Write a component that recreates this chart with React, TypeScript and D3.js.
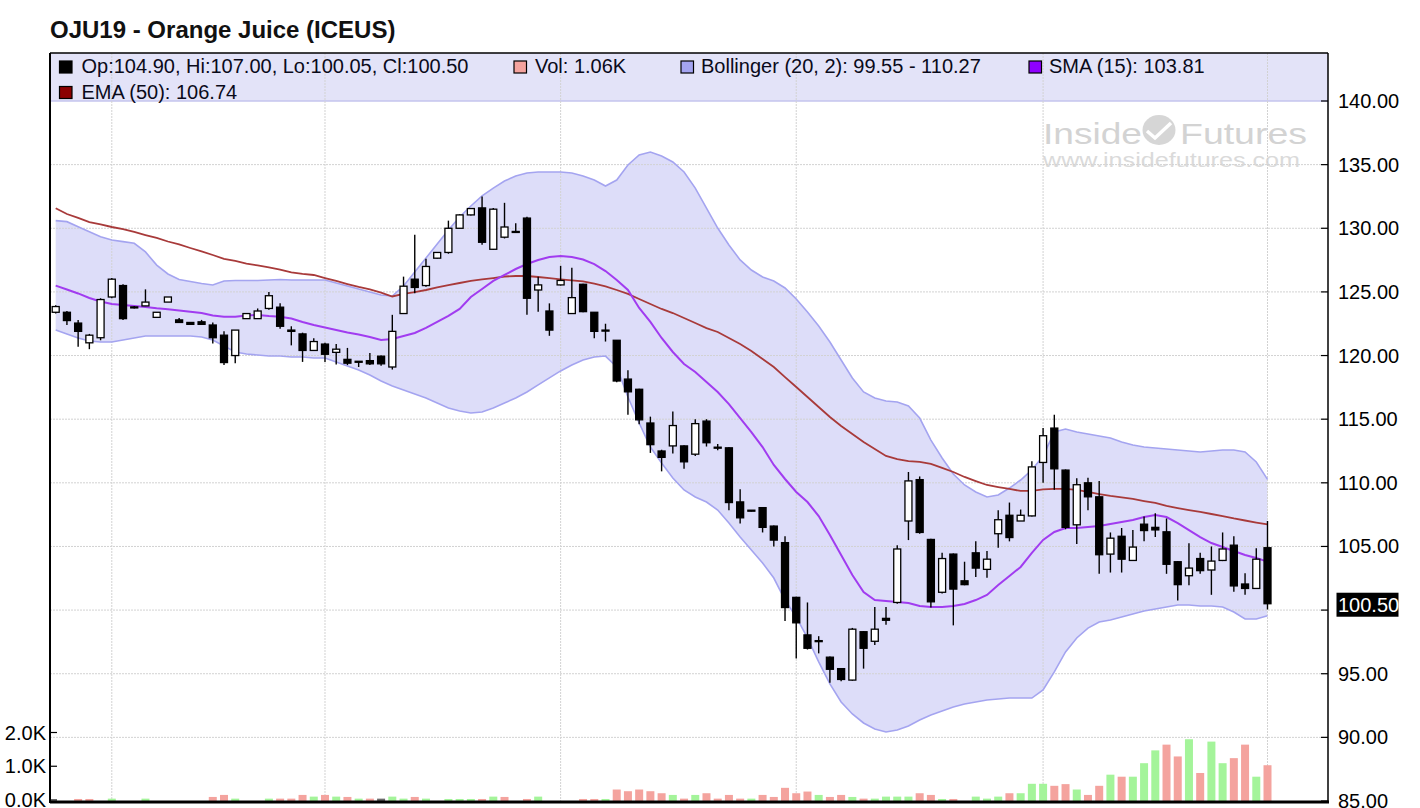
import React from 'react';
import * as d3 from 'd3';

// ---- Data (OJU19 daily candles) ----
const opens = [123.40,123.40,122.55,121.00,121.40,124.60,125.50,123.82,123.90,123.00,
124.20,122.80,122.60,122.65,122.40,121.60,120.00,122.90,122.90,123.70,
123.80,122.00,121.70,120.40,120.90,120.25,119.70,119.55,119.60,119.95,
119.10,123.30,126.00,125.50,127.65,128.10,130.00,131.05,131.60,128.35,
129.30,129.75,130.80,125.15,123.50,125.55,123.30,125.60,123.40,122.00,
121.20,118.15,117.35,114.70,112.50,112.90,112.90,112.25,114.85,112.80,
112.75,108.50,107.85,108.05,106.60,105.30,101.00,98.05,97.60,96.30,
95.40,94.50,98.30,97.55,99.35,100.60,107.00,110.25,105.55,101.40,
104.40,102.30,104.50,103.20,106.00,107.45,107.00,107.40,111.60,114.30,
111.00,106.70,110.00,108.90,104.40,105.80,103.90,106.75,106.50,106.15,
103.80,102.70,104.05,103.15,103.90,105.10,102.05,101.70,104.90];

const highs = [123.95,123.50,122.80,121.70,124.50,126.10,125.60,123.90,125.20,123.40,
124.60,122.95,122.60,122.80,122.60,121.90,122.00,123.30,123.70,125.00,
124.10,122.30,121.80,121.35,121.00,120.90,120.60,119.55,120.20,120.00,
123.20,126.20,129.50,127.60,128.10,130.60,131.10,131.55,132.50,131.60,
132.00,130.40,130.90,126.20,124.10,127.05,126.90,125.65,123.40,122.50,
121.20,118.85,117.40,115.20,112.60,115.60,112.95,115.00,115.00,113.05,
112.80,109.50,107.85,108.10,106.65,105.80,101.05,100.60,97.95,96.35,
95.45,98.60,98.35,100.25,100.25,105.10,110.85,110.50,105.60,104.50,
104.45,103.80,105.40,104.65,107.85,108.45,107.90,111.70,114.30,115.35,
111.05,110.35,110.40,110.15,106.10,106.45,106.30,107.35,107.60,107.20,
103.85,105.25,104.50,105.00,106.10,105.80,102.90,104.85,107.00];

const lows = [123.30,122.40,120.70,120.50,121.20,124.50,122.80,123.70,123.90,123.00,
124.20,122.60,122.45,122.45,120.95,119.25,119.40,122.90,122.90,123.60,
122.10,120.80,119.50,120.40,119.50,119.30,119.25,119.10,119.25,119.20,
118.90,123.30,124.90,125.40,127.60,128.00,130.00,131.00,128.70,128.30,
129.20,129.70,123.20,123.45,121.55,125.50,123.30,123.40,121.35,121.10,
117.90,115.35,114.60,112.35,110.90,112.30,111.10,112.10,112.85,112.55,
107.85,106.80,107.75,106.10,105.00,99.15,96.20,96.90,96.60,94.30,
94.40,94.45,95.40,97.25,98.85,100.50,105.50,106.00,100.20,101.30,
98.80,101.95,102.60,102.55,104.90,105.40,107.00,107.35,110.00,109.45,
106.35,105.20,107.85,102.85,102.95,102.95,103.85,105.40,105.75,102.85,
100.75,101.95,102.85,101.20,103.85,101.45,101.20,101.65,100.05];

const closes = [123.85,122.75,121.90,121.60,124.40,126.00,122.90,123.78,124.20,123.40,
124.60,122.60,122.45,122.45,121.40,119.45,122.00,123.30,123.50,124.70,
122.30,121.90,120.40,121.10,120.10,120.50,119.40,119.50,119.35,119.35,
121.90,125.45,125.35,127.00,128.10,130.00,131.05,131.55,128.90,131.50,
130.10,129.70,124.50,125.55,122.00,125.90,124.55,123.45,121.90,121.95,
118.00,117.15,114.95,113.00,112.00,114.50,111.65,114.65,113.15,112.75,
108.45,107.25,107.80,106.50,105.50,100.20,99.00,97.00,97.55,95.35,
94.55,98.50,97.00,98.50,99.20,104.80,110.15,106.10,100.65,104.05,
101.65,102.00,103.30,104.00,107.10,105.70,107.45,111.25,113.70,111.10,
106.50,109.85,108.90,104.35,105.65,104.00,104.95,106.25,106.30,103.60,
102.00,103.30,103.10,103.85,104.80,101.90,101.70,104.00,100.50];

// volume in thousands
const volumes = [0,0,0.06,0.06,0,0.07,0,0,0.07,0,
0,0,0,0,0.12,0.18,0.07,0,0,0.07,
0.07,0.07,0.18,0.13,0.18,0.13,0.12,0.07,0.07,0.07,
0.13,0.07,0.12,0.07,0,0.06,0.06,0.06,0.06,0.13,
0.12,0,0.06,0.13,0,0,0,0.06,0.06,0.06,
0.34,0.29,0.34,0.29,0.23,0.18,0.07,0.18,0.23,0.07,
0.18,0.07,0.07,0.18,0.12,0.39,0.23,0.28,0.18,0.12,
0.18,0.12,0.07,0.07,0.13,0.13,0.13,0.23,0.18,0.06,
0.06,0,0.13,0.07,0.13,0.23,0.23,0.51,0.51,0.45,
0.50,0.34,0.18,0.45,0.78,0.72,0.72,1.12,1.50,1.67,
1.32,1.83,0.83,1.76,1.12,1.27,1.67,0.72,1.06];

const bbUpper = [130.60,130.52,130.12,129.73,129.34,129.08,128.95,128.82,128.14,127.11,
126.41,125.98,125.82,125.66,125.54,125.86,125.90,125.90,125.90,125.94,
125.98,125.94,125.94,125.94,125.94,125.70,125.46,125.23,124.99,124.76,
124.68,125.46,126.56,127.66,128.76,129.86,130.89,131.75,132.54,133.16,
133.71,134.11,134.34,134.42,134.42,134.42,134.34,134.11,133.79,133.32,
133.79,134.97,135.76,135.99,135.68,135.21,134.42,133.16,131.59,130.02,
128.69,127.51,126.72,126.17,125.86,125.31,124.44,123.42,122.32,121.06,
119.65,118.24,117.14,116.66,116.43,116.35,116.04,115.09,113.36,111.95,
110.69,109.83,109.28,108.89,109.04,109.59,110.22,111.01,112.11,113.99,
114.23,113.99,113.84,113.68,113.52,113.21,112.97,112.81,112.74,112.66,
112.58,112.50,112.42,112.50,112.58,112.58,112.42,111.64,110.27];

const bbLower = [122.01,121.69,121.38,121.14,121.06,121.06,121.22,121.38,121.54,121.54,
121.54,121.54,121.54,121.46,121.22,120.75,120.28,120.12,120.04,119.96,
119.96,119.89,119.89,119.81,119.81,119.49,119.18,118.86,118.47,118.00,
117.61,117.29,116.98,116.66,116.27,115.88,115.64,115.49,115.56,115.88,
116.27,116.66,117.14,117.69,118.24,118.79,119.26,119.65,119.89,119.96,
119.10,116.74,114.70,112.81,111.56,110.38,109.44,108.89,108.49,107.86,
106.84,105.74,104.72,103.70,102.52,100.79,99.45,97.82,95.93,94.20,
92.78,91.84,91.13,90.66,90.42,90.58,90.89,91.37,91.76,92.07,
92.39,92.62,92.78,92.94,93.01,93.09,93.09,93.09,93.72,95.14,
96.71,97.81,98.59,99.07,99.22,99.46,99.69,99.93,100.09,100.24,
100.40,100.40,100.32,100.32,100.24,99.85,99.30,99.30,99.55];

const sma15 = [125.49,125.19,124.88,124.52,124.25,124.05,123.97,123.89,123.81,123.71,
123.63,123.54,123.45,123.34,123.15,123.05,123.05,123.15,123.19,123.11,
123.05,122.91,122.64,122.40,122.20,122.01,121.81,121.65,121.46,121.22,
121.30,121.54,121.77,122.17,122.64,123.11,123.66,124.60,125.23,125.86,
126.33,126.80,127.19,127.51,127.74,127.82,127.74,127.55,127.19,126.64,
125.94,125.15,123.74,122.64,121.38,120.28,119.34,118.71,117.92,117.14,
116.19,115.09,113.99,112.81,111.40,110.30,109.28,108.49,107.39,105.90,
104.33,102.76,101.42,100.79,100.72,100.64,100.56,100.32,100.24,100.24,
100.32,100.48,100.79,101.19,101.97,102.68,103.39,104.49,105.51,106.14,
106.45,106.45,106.53,106.61,106.76,106.92,107.08,107.31,107.47,107.31,
106.84,106.29,105.74,105.27,104.96,104.64,104.33,104.09,103.81];

const ema50 = [131.57,131.12,130.81,130.49,130.30,130.10,129.94,129.71,129.47,129.24,
128.96,128.73,128.45,128.18,127.90,127.59,127.43,127.23,127.08,126.92,
126.76,126.53,126.41,126.33,126.09,125.86,125.62,125.39,125.19,124.95,
124.64,124.84,124.99,125.15,125.35,125.54,125.70,125.86,125.98,126.09,
126.21,126.25,126.25,126.17,126.09,125.99,125.90,125.82,125.66,125.43,
125.15,124.84,124.44,124.05,123.66,123.34,122.95,122.56,122.16,121.85,
121.38,120.91,120.36,119.73,119.10,118.31,117.53,116.74,115.96,115.17,
114.46,113.84,113.21,112.66,112.11,111.87,111.71,111.64,111.48,111.17,
110.85,110.46,110.14,109.83,109.67,109.52,109.36,109.36,109.48,109.52,
109.52,109.44,109.28,109.12,108.97,108.85,108.73,108.57,108.42,108.18,
108.02,107.86,107.71,107.55,107.39,107.20,107.04,106.88,106.74];

// first trading day of each month (vertical grid)
const monthStarts = [5, 24, 45, 66, 88, 108];
const priceTicks = [85, 90, 95, 100, 105, 110, 115, 120, 125, 130, 135, 140];
const volTicks = [0, 1, 2];

const title = 'OJU19 - Orange Juice (ICEUS)';
const FONT = '"Liberation Sans", Arial, Helvetica, sans-serif';

export default function App() {
  const n = closes.length;
  const last = n - 1;
  const plotL = 50, plotR = 1328, plotT = 53, plotB = 801;

  const x = d3.scaleLinear().domain([0, last]).range([55.7, 1267.5]);
  const y = d3.scaleLinear().domain([85, 140]).range([801, 101]);
  const yv = d3.scaleLinear().domain([0, 2]).range([801, 733.5]);

  const idx = d3.range(n);
  const bandPath = d3.area<number>()
    .x((i) => x(i))
    .y0((i) => y(bbLower[i]))
    .y1((i) => y(bbUpper[i]))(idx) || '';
  const mkLine = (arr: number[]) =>
    d3.line<number>().x((i) => x(i)).y((i) => y(arr[i]))(idx) || '';

  const bodyW = 7;
  const volW = 8;

  const volColor = (i: number) => {
    if (i === 0) return '#f4a39e';
    if (closes[i] > closes[i - 1]) return '#a4f49a';
    if (closes[i] < closes[i - 1]) return '#f4a39e';
    return '#6b6b6b';
  };

  const legendRow1 = 72.5;
  const legendRow2 = 98.5;
  const lastClose = closes[last];
  const lastY = y(lastClose);

  return (
    <svg
      width={1420}
      height={808}
      style={{ position: 'absolute', left: 0, top: 0, background: '#fff' }}
      fontFamily={FONT}
    >
      <defs>
        <clipPath id="plotClip">
          <rect x={plotL} y={plotT} width={plotR - plotL} height={plotB - plotT} />
        </clipPath>
      </defs>

      {/* title */}
      <text x={50} y={38} fontSize={24} fontWeight="bold" fill="#111">{title}</text>

      {/* watermark */}
      <g fill="#d3d3d3">
        <text x={1043} y={143.5} fontSize={30} textLength={99} lengthAdjust="spacingAndGlyphs">Inside</text>
        <ellipse cx={1159} cy={130} rx={16.5} ry={15} fill="#d6d6d6" />
        <path d="M1147,131 L1155,138 L1171,123" fill="none" stroke="#fff" strokeWidth={3.5} />
        <text x={1180} y={143.5} fontSize={30} textLength={127} lengthAdjust="spacingAndGlyphs">Futures</text>
        <text x={1043} y={167} fontSize={20} textLength={257} lengthAdjust="spacingAndGlyphs" fill="#dadada">www.insidefutures.com</text>
      </g>

      <g clipPath="url(#plotClip)">
        {/* legend band */}
        <rect x={plotL} y={plotT} width={plotR - plotL} height={y(140) - plotT} fill="#e3e3f8" />

        {/* Bollinger band */}
        <path d={bandPath} fill="rgb(160,160,238)" fillOpacity={0.36} stroke="none" />

        {/* horizontal grid */}
        {priceTicks.filter((t) => t > 85).map((t) => (
          <line key={'hg' + t} x1={plotL} x2={plotR} y1={y(t)} y2={y(t)}
            stroke={t === 140 ? '#c4c4ee' : '#d2d2d2'} strokeWidth={t === 140 ? 1.5 : 1}
            strokeDasharray={t === 140 ? undefined : '2,1'} />
        ))}
        {/* vertical grid */}
        {monthStarts.map((i) => (
          <line key={'vg' + i} x1={x(i)} x2={x(i)} y1={plotT} y2={plotB}
            stroke="#d2d2d2" strokeWidth={1} strokeDasharray="2,1" />
        ))}

        {/* band edges */}
        <path d={mkLine(bbUpper)} fill="none" stroke="#a4a4f0" strokeWidth={1.6} />
        <path d={mkLine(bbLower)} fill="none" stroke="#a4a4f0" strokeWidth={1.6} />

        {/* volume */}
        {idx.filter((i) => volumes[i] > 0).map((i) => (
          <rect key={'v' + i} x={x(i) - volW / 2} y={yv(volumes[i])} width={volW}
            height={yv(0) - yv(volumes[i])} fill={volColor(i)} />
        ))}

        {/* EMA & SMA */}
        <path d={mkLine(ema50)} fill="none" stroke="#a83a3a" strokeWidth={1.8} />
        <path d={mkLine(sma15)} fill="none" stroke="#a13cf0" strokeWidth={2} />

        {/* candles */}
        {idx.map((i) => {
          const up = closes[i] > opens[i];
          const top = y(Math.max(opens[i], closes[i]));
          const bot = y(Math.min(opens[i], closes[i]));
          const h = Math.max(bot - top, 1);
          return (
            <g key={'c' + i}>
              <line x1={x(i)} x2={x(i)} y1={y(highs[i])} y2={y(lows[i])} stroke="#000" strokeWidth={1.4} />
              <rect x={x(i) - bodyW / 2} y={top} width={bodyW} height={h}
                fill={up ? '#fff' : '#000'} stroke="#000" strokeWidth={1.3} />
            </g>
          );
        })}
      </g>

      {/* legend */}
      <g fontSize={20} fill="#0a0a1a">
        <rect x={59.5} y={61} width={12.5} height={12} fill="#000" stroke="#000" strokeWidth={1.2} />
        <text x={81.5} y={legendRow1}>
          {`Op:${opens[last].toFixed(2)}, Hi:${highs[last].toFixed(2)}, Lo:${lows[last].toFixed(2)}, Cl:${closes[last].toFixed(2)}`}
        </text>
        <rect x={514} y={61} width={12.5} height={12} fill="#f4a39e" stroke="#000" strokeWidth={1.2} />
        <text x={535} y={legendRow1}>{`Vol: ${volumes[last].toFixed(2)}K`}</text>
        <rect x={681} y={61} width={12.5} height={12} fill="#a4a4f0" stroke="#000" strokeWidth={1.2} />
        <text x={701} y={legendRow1}>{`Bollinger (20, 2): ${bbLower[last].toFixed(2)} - ${bbUpper[last].toFixed(2)}`}</text>
        <rect x={1029} y={61} width={12.5} height={12} fill="#8f00ff" stroke="#000" strokeWidth={1.2} />
        <text x={1049} y={legendRow1}>{`SMA (15): ${sma15[last].toFixed(2)}`}</text>
        <rect x={59.5} y={86.5} width={12.5} height={12} fill="#8b0000" stroke="#000" strokeWidth={1.2} />
        <text x={81.5} y={legendRow2}>{`EMA (50): ${ema50[last].toFixed(2)}`}</text>
      </g>

      {/* frame / axes */}
      <line x1={plotL} x2={plotR} y1={plotT} y2={plotT} stroke="#000" strokeWidth={1.5} />
      <line x1={plotL} x2={plotL} y1={plotT} y2={plotB + 2} stroke="#000" strokeWidth={2} />
      <line x1={plotR} x2={plotR} y1={plotT} y2={plotB + 2} stroke="#000" strokeWidth={1.5} />
      <line x1={plotL} x2={plotR + 1} y1={plotB + 1} y2={plotB + 1} stroke="#000" strokeWidth={3} />

      {/* right price axis */}
      <g fontSize={20} fill="#000">
        {priceTicks.map((t) => (
          <g key={'pt' + t}>
            <line x1={plotR - 7} x2={plotR} y1={y(t)} y2={y(t)} stroke="#000" strokeWidth={1.2} />
            {Math.abs(y(t) - lastY) > 20 && (
              <text x={1338} y={y(t) + 7}>{t.toFixed(2)}</text>
            )}
          </g>
        ))}
        <rect x={1336.5} y={lastY - 11} width={62} height={24} fill="#000" />
        <text x={1338} y={lastY + 8} fill="#fff">{lastClose.toFixed(2)}</text>
      </g>

      {/* left volume axis */}
      <g fontSize={20} fill="#000">
        {volTicks.map((t) => (
          <g key={'vt' + t}>
            <line x1={plotL} x2={plotL + 7} y1={yv(t) - 1} y2={yv(t) - 1} stroke="#000" strokeWidth={1.2} />
            <text x={46} y={yv(t) + 6} textAnchor="end">{`${t.toFixed(1)}K`}</text>
          </g>
        ))}
      </g>
    </svg>
  );
}
